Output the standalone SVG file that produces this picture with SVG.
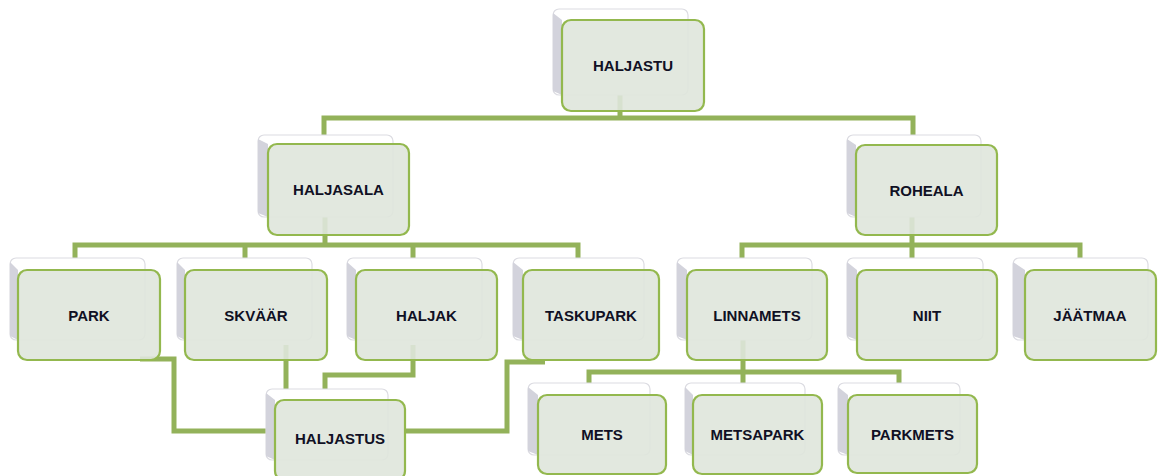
<svg xmlns="http://www.w3.org/2000/svg" width="1158" height="476" viewBox="0 0 1158 476">
<style>
.bg{fill:#ffffff}
.conn{fill:none;stroke:#93b25a;stroke-width:5;stroke-linejoin:miter}
.back{fill:#ffffff;stroke:#dcdce2;stroke-width:1.2}
.side{fill:#d3d3dc}
.front{fill:#dfe5db;fill-opacity:0.9;stroke:#93b84e;stroke-width:2.2}
.lbl{font-family:"Liberation Sans",Arial,sans-serif;font-weight:bold;font-size:15px;fill:#101024;text-anchor:middle}
</style>
<rect class="bg" x="0" y="0" width="1158" height="476"/>
<g id="connectors">
<path class="conn" d="M620,95 V118 M324,135 V118 H913 V135"/>
<path class="conn" d="M325,217 V245 M75,258 V245 H578 V258 M245,245 V258 M413,245 V258"/>
<path class="conn" d="M912,217 V245 M742,258 V245 H1080 V258 M912,245 V258"/>
<path class="conn" d="M743,340 V372 M589,383 V372 H899 V383 M743,372 V383"/>
<path class="conn" d="M140,359 H174 V431 H266"/>
<path class="conn" d="M286,345 V389"/>
<path class="conn" d="M413,345 V375 H325 V389"/>
<path class="conn" d="M545,362 H507 V431 H405"/>
</g>
<g id="haljastu">
<rect class="back" x="553" y="9" width="135" height="86" rx="6"/>
<path class="side" d="M553,13 L562,20 L562,95 L553,91 Z"/>
<rect class="front" x="562" y="20" width="142" height="91" rx="9"/>
<text class="lbl" x="633" y="70.5">HALJASTU</text>
</g>
<g id="haljasala">
<rect class="back" x="258" y="135" width="135" height="82" rx="6"/>
<path class="side" d="M258,139 L268,144 L268,217 L258,213 Z"/>
<rect class="front" x="268" y="144" width="141" height="91" rx="9"/>
<text class="lbl" x="338.5" y="195">HALJASALA</text>
</g>
<g id="roheala">
<rect class="back" x="847" y="135" width="134" height="82" rx="6"/>
<path class="side" d="M847,139 L856,145 L856,217 L847,213 Z"/>
<rect class="front" x="856" y="145" width="141" height="90" rx="9"/>
<text class="lbl" x="926.5" y="195.5">ROHEALA</text>
</g>
<g id="park">
<rect class="back" x="10" y="258" width="135" height="82" rx="6"/>
<path class="side" d="M10,262 L18,270 L18,340 L10,336 Z"/>
<rect class="front" x="18" y="270" width="142" height="90" rx="9"/>
<text class="lbl" x="89" y="320.5">PARK</text>
</g>
<g id="skvaar">
<rect class="back" x="177" y="258" width="135" height="82" rx="6"/>
<path class="side" d="M177,262 L185,270 L185,340 L177,336 Z"/>
<rect class="front" x="185" y="270" width="142" height="90" rx="9"/>
<text class="lbl" x="256" y="320.5">SKVÄÄR</text>
</g>
<g id="haljak">
<rect class="back" x="347" y="258" width="135" height="82" rx="6"/>
<path class="side" d="M347,262 L356,270 L356,340 L347,336 Z"/>
<rect class="front" x="356" y="270" width="141" height="90" rx="9"/>
<text class="lbl" x="426.5" y="320.5">HALJAK</text>
</g>
<g id="taskupark">
<rect class="back" x="513" y="258" width="131" height="82" rx="6"/>
<path class="side" d="M513,262 L523,270 L523,340 L513,336 Z"/>
<rect class="front" x="523" y="270" width="136" height="90" rx="9"/>
<text class="lbl" x="591" y="320.5">TASKUPARK</text>
</g>
<g id="linnamets">
<rect class="back" x="677" y="258" width="135" height="82" rx="6"/>
<path class="side" d="M677,262 L687,270 L687,340 L677,336 Z"/>
<rect class="front" x="687" y="270" width="140" height="90" rx="9"/>
<text class="lbl" x="757" y="320.5">LINNAMETS</text>
</g>
<g id="niit">
<rect class="back" x="847" y="258" width="136" height="82" rx="6"/>
<path class="side" d="M847,262 L857,270 L857,340 L847,336 Z"/>
<rect class="front" x="857" y="270" width="140" height="90" rx="9"/>
<text class="lbl" x="927" y="320.5">NIIT</text>
</g>
<g id="jaatmaa">
<rect class="back" x="1013" y="258" width="135" height="82" rx="6"/>
<path class="side" d="M1013,262 L1025,270 L1025,340 L1013,336 Z"/>
<rect class="front" x="1025" y="270" width="131" height="90" rx="9"/>
<text class="lbl" x="1090" y="320.5">JÄÄTMAA</text>
</g>
<g id="haljastus">
<rect class="back" x="266" y="389" width="122" height="71" rx="6"/>
<path class="side" d="M266,393 L275,400 L275,460 L266,456 Z"/>
<rect class="front" x="275" y="400" width="130" height="80" rx="9"/>
<text class="lbl" x="340" y="443.5">HALJASTUS</text>
</g>
<g id="mets">
<rect class="back" x="528" y="383" width="122" height="72" rx="6"/>
<path class="side" d="M528,387 L538,395 L538,455 L528,451 Z"/>
<rect class="front" x="538" y="395" width="128" height="79" rx="9"/>
<text class="lbl" x="602" y="439.5">METS</text>
</g>
<g id="metsapark">
<rect class="back" x="685" y="383" width="120" height="72" rx="6"/>
<path class="side" d="M685,387 L693,395 L693,455 L685,451 Z"/>
<rect class="front" x="693" y="395" width="129" height="79" rx="9"/>
<text class="lbl" x="757.5" y="439.5">METSAPARK</text>
</g>
<g id="parkmets">
<rect class="back" x="838" y="383" width="122" height="72" rx="6"/>
<path class="side" d="M838,387 L848,395 L848,455 L838,451 Z"/>
<rect class="front" x="848" y="395" width="129" height="78" rx="9"/>
<text class="lbl" x="912.5" y="439.5">PARKMETS</text>
</g>
</svg>
